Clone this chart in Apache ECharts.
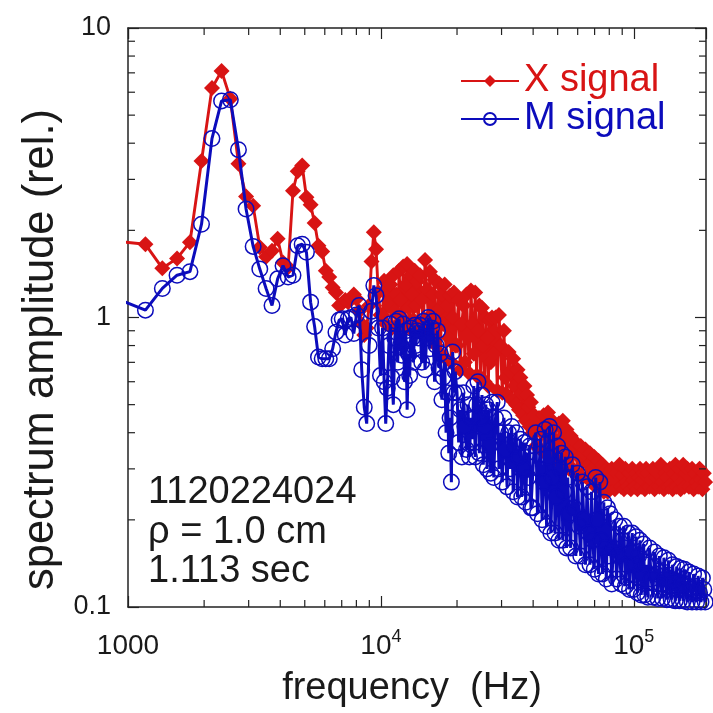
<!DOCTYPE html>
<html>
<head>
<meta charset="utf-8">
<script src="https://cdn.jsdelivr.net/npm/echarts@6/dist/echarts.min.js"></script>
<style>html,body{margin:0;padding:0;background:#fff;}#c{width:713px;height:713px;}</style>
</head>
<body>
<div id="c"></div>
<script>
// ---- data ----
const freq = [
  977, 1172, 1367, 1563, 1758, 1953, 2148, 2344, 2539, 2734, 2930, 3125, 3320, 3516, 3711, 3906,
  4102, 4297, 4492, 4688, 4883, 5078, 5273, 5469, 5664, 5859, 6055, 6250, 6445, 6641, 6836, 7031,
  7227, 7422, 7617, 7813, 8008, 8203, 8398, 8594, 8789, 8984, 9180, 9375, 9570, 9766, 9961,
  10150, 10300, 10450, 10600, 10750, 10900, 11050, 11200, 11350, 11500, 11650, 11800, 11950,
  12100, 12250, 12400, 12550, 12700, 12850, 13000, 13150, 13300, 13450, 13600, 13750, 13900,
  14050, 14275, 14500, 14725, 14950, 15175, 15400, 15625, 15850, 16075, 16300, 16525, 16750,
  16975, 17200, 17425, 17650, 17875, 18100, 18325, 18550, 18775, 19000, 19225, 19450, 19675,
  20000, 20300, 20600, 20900, 21200, 21500, 21800, 22100, 22400, 22700, 23000, 23300, 23600,
  23900, 24200, 24500, 24800, 25100, 25400, 25700, 26000, 26300, 26600, 26900, 27200, 27500,
  27950, 28400, 28850, 29300, 29750, 30200, 30650, 31100, 31550, 32000, 32450, 32900, 33350,
  33800, 34250, 34700, 35150, 35600, 36050, 36500, 36950, 37400, 37850, 38300, 38750, 39200,
  39800, 40400, 41000, 41600, 42200, 42800, 43400, 44000, 44600, 45200, 45800, 46400, 47000, 47600,
  48200, 48800, 49400, 50000, 50600, 51200, 51800, 52400, 53000, 53600, 54200, 54800, 55400,
  56300, 57200, 58100, 59000, 59900, 60800, 61700, 62600, 63500, 64400, 65300, 66200, 67100, 68000,
  68900, 69800, 70700, 71600, 72500, 73400, 74300, 75200, 76100, 77000, 77900, 78800, 79700,
  80600, 81800, 83000, 84200, 85400, 86600, 87800, 89000, 90200, 91400, 92600, 93800, 95000, 96200,
  97400, 98600, 99800, 101000, 102200, 103400, 104600, 105800, 107000, 108200, 109400, 110600, 111800,
  113600, 115400, 117200, 119000, 120800, 122600, 124400, 126200, 128000, 129800, 131600, 133400, 135200, 137000,
  138800, 140600, 142400, 144200, 146000, 147800, 149600, 151400, 153200, 155000, 156800, 158600, 160400,
  162800, 165200, 167600, 170000, 172400, 174800, 177200, 179600, 182000, 184400, 186800, 189200, 191600
];
const xSignal = [
  1.82, 1.79, 1.48, 1.60, 1.82, 3.47, 6.2, 7.1, 5.7, 3.4, 2.62, 2.43, 1.75, 1.62, 1.70, 1.87,
  1.55, 1.49, 2.74, 3.20, 3.35, 2.60, 2.45, 2.12, 1.77, 1.69, 1.45, 1.38, 1.27, 1.22, 1.10, 1.12,
  1.15, 1.13, 1.16, 1.20, 1.16, 1.05, 0.95, 0.87, 0.92, 1.10, 1.56, 1.97, 1.72, 1.22, 1.02,
  1.02, 1.34, 0.95, 1.25, 1.10, 1.30, 0.92, 1.40, 1.05, 1.20, 0.95, 1.45, 1.15,
  1.00, 1.50, 0.93, 1.30, 1.53, 1.08, 0.92, 1.40, 1.20, 0.98, 1.45, 1.10, 1.33,
  0.95, 1.40, 1.15, 0.90, 1.58, 1.25, 1.00, 1.44, 0.85, 1.20, 1.35, 0.80, 1.05,
  1.31, 0.75, 1.20, 0.95, 1.30, 0.72, 1.10, 0.85, 1.19, 0.70, 1.00, 1.22, 0.80,
  0.80, 1.15, 0.66, 0.95, 1.10, 0.70, 1.20, 0.85, 0.64, 1.24, 0.95, 0.75, 1.22,
  0.63, 0.90, 1.10, 0.62, 1.08, 0.80, 0.60, 1.00, 0.85, 0.58, 0.98, 0.70, 1.00,
  0.75, 1.00, 0.56, 1.02, 0.80, 0.55, 0.90, 0.62, 0.54, 0.76, 0.65, 0.52, 0.72,
  0.58, 0.50, 0.66, 0.48, 0.62, 0.55, 0.46, 0.58, 0.44, 0.54, 0.49, 0.42, 0.51,
  0.40, 0.46, 0.36, 0.43, 0.45, 0.35, 0.40, 0.46, 0.34, 0.42, 0.47, 0.33, 0.38, 0.44,
  0.33, 0.42, 0.36, 0.32, 0.43, 0.38, 0.31, 0.44, 0.35, 0.31, 0.41, 0.36, 0.30,
  0.39, 0.30, 0.35, 0.37, 0.29, 0.33, 0.36, 0.28, 0.34, 0.35, 0.28, 0.31, 0.34, 0.27,
  0.30, 0.33, 0.26, 0.29, 0.32, 0.26, 0.30, 0.31, 0.25, 0.28, 0.30, 0.25, 0.29,
  0.26, 0.30, 0.275, 0.255, 0.29, 0.27, 0.31, 0.26, 0.285, 0.255, 0.30, 0.27, 0.26, 0.29,
  0.255, 0.30, 0.275, 0.26, 0.29, 0.255, 0.28, 0.30, 0.26, 0.275, 0.29, 0.255, 0.30,
  0.29, 0.26, 0.275, 0.30, 0.255, 0.28, 0.29, 0.26, 0.31, 0.27, 0.255, 0.29, 0.28, 0.26,
  0.30, 0.265, 0.255, 0.29, 0.31, 0.26, 0.28, 0.30, 0.255, 0.27, 0.31, 0.26, 0.29,
  0.30, 0.26, 0.28, 0.30, 0.255, 0.29, 0.27, 0.26, 0.30, 0.275, 0.255, 0.29, 0.27
];
const mSignal = [
  1.13, 1.06, 1.26, 1.40, 1.44, 2.10, 4.15, 5.6, 5.65, 3.8, 2.37, 1.76, 1.47, 1.26, 1.10, 1.36,
  1.51, 1.38, 1.40, 1.77, 1.79, 1.68, 1.13, 0.93, 0.73, 0.72, 0.72, 0.72, 0.78, 0.89, 0.98, 0.99,
  0.87, 0.99, 1.00, 0.88, 1.02, 1.10, 0.66, 0.49, 0.43, 0.80, 1.05, 1.29, 1.19, 0.92, 0.63,
  0.92, 0.60, 0.43, 0.57, 0.80, 0.95, 0.62, 0.50, 0.85, 0.97, 0.70, 0.99, 0.80,
  0.74, 0.95, 0.60, 0.90, 0.48, 0.75, 0.63, 0.92, 0.85, 0.70, 0.94, 0.80, 0.90,
  0.85, 0.94, 0.70, 0.97, 0.66, 0.85, 1.00, 0.78, 0.92, 0.97, 0.60, 0.80, 0.90,
  0.67, 0.75, 0.52, 0.62, 0.70, 0.40, 0.55, 0.34, 0.45, 0.27, 0.76, 0.55, 0.65,
  0.55, 0.37, 0.48, 0.33, 0.55, 0.42, 0.35, 0.50, 0.33, 0.45, 0.38, 0.58, 0.33,
  0.50, 0.60, 0.34, 0.45, 0.54, 0.31, 0.42, 0.50, 0.30, 0.48, 0.36, 0.29, 0.51,
  0.28, 0.45, 0.51, 0.30, 0.40, 0.27, 0.45, 0.35, 0.26, 0.40, 0.30, 0.42, 0.25,
  0.36, 0.40, 0.24, 0.33, 0.38, 0.24, 0.30, 0.37, 0.23, 0.34, 0.28, 0.36, 0.22,
  0.22, 0.36, 0.40, 0.21, 0.30, 0.38, 0.20, 0.27, 0.41, 0.19, 0.33, 0.42, 0.18, 0.28,
  0.40, 0.18, 0.24, 0.36, 0.17, 0.30, 0.34, 0.17, 0.25, 0.33, 0.16, 0.28, 0.21,
  0.16, 0.31, 0.22, 0.15, 0.29, 0.19, 0.15, 0.27, 0.20, 0.14, 0.26, 0.18, 0.14, 0.25,
  0.17, 0.135, 0.28, 0.20, 0.13, 0.27, 0.17, 0.13, 0.23, 0.16, 0.125, 0.22, 0.15,
  0.21, 0.12, 0.16, 0.20, 0.125, 0.15, 0.19, 0.12, 0.17, 0.19, 0.118, 0.14, 0.18, 0.115,
  0.155, 0.18, 0.115, 0.14, 0.175, 0.112, 0.15, 0.17, 0.11, 0.13, 0.165, 0.11, 0.14,
  0.108, 0.16, 0.125, 0.108, 0.155, 0.13, 0.107, 0.15, 0.12, 0.107, 0.148, 0.125, 0.106, 0.145,
  0.118, 0.106, 0.14, 0.122, 0.105, 0.138, 0.115, 0.105, 0.136, 0.12, 0.105, 0.135, 0.115,
  0.104, 0.132, 0.115, 0.104, 0.13, 0.118, 0.104, 0.128, 0.112, 0.104, 0.126, 0.115, 0.104
];
const seriesNames = ['X signal', 'M signal'];
const xMinorTicks = [2000, 3000, 4000, 5000, 6000, 7000, 8000, 9000,
  20000, 30000, 40000, 50000, 60000, 70000, 80000, 90000];
const yMinorTicks = [0.2, 0.3, 0.4, 0.5, 0.6, 0.7, 0.8, 0.9, 2, 3, 4, 5, 6, 7, 8, 9];
const X_MIN = 1000, X_MAX = 193000, Y_MIN = 0.1, Y_MAX = 10;
const annotation = ['1120224024', 'ρ = 1.0 cm', '1.113 sec'];
const xName = 'frequency  (Hz)';
const yName = 'spectrum amplitude (rel.)';

// ---- styles ----
const RED = '#d81414';
const BLUE = '#0c0cbc';
const INK = '#1a1a1a';
const FONT = 'Liberation Sans, Arial, Helvetica, sans-serif';

const chart = echarts.init(document.getElementById('c'), null, {renderer: 'canvas'});

function xLabel(v) {
  const e = Math.round(Math.log10(v));
  if (Math.abs(v - Math.pow(10, e)) > 1e-6 * v) return '';
  if (e === 3) return '{b|1000}';
  return '{b|10}{s|' + e + '}';
}
function yLabel(v) {
  const e = Math.round(Math.log10(v));
  if (Math.abs(v - Math.pow(10, e)) > 1e-6 * v) return '';
  return e === -1 ? '0.1' : (e === 0 ? '1' : '10');
}
const axisLineStyle = {show: true, onZero: false, lineStyle: {color: '#222', width: 1.5}};
const axisTickStyle = {show: true, inside: true, length: 11, lineStyle: {color: '#222', width: 1.2}};

function tickItem(p, q) {
  return {type: 'line', shape: {x1: p[0], y1: p[1], x2: q[0], y2: q[1]},
          style: {stroke: '#222', lineWidth: 1.2}};
}

const option = {
  animation: false,
  backgroundColor: '#ffffff',
  grid: {left: 128, right: 7, top: 28, bottom: 103, containLabel: false},
  title: {
    text: annotation.join('\n'),
    left: 148, top: 473, padding: 0,
    textStyle: {fontSize: 38, fontWeight: 'normal', lineHeight: 39.5, color: INK, fontFamily: FONT}
  },
  legend: {
    left: 455, top: 57, orient: 'vertical',
    itemWidth: 58, itemHeight: 15, itemGap: 0,
    data: [
      {name: seriesNames[0], textStyle: {color: RED}},
      {name: seriesNames[1], textStyle: {color: BLUE}}
    ],
    textStyle: {fontSize: 38, lineHeight: 37, fontFamily: FONT},
    selectedMode: false
  },
  xAxis: [
    {
      type: 'log', logBase: 10, min: X_MIN, max: X_MAX, position: 'bottom',
      axisLine: axisLineStyle, axisTick: axisTickStyle, splitLine: {show: false},
      axisLabel: {
        formatter: xLabel, margin: 21, color: INK, fontFamily: FONT,
        rich: {
          b: {fontSize: 28, lineHeight: 36, color: INK, fontFamily: FONT},
          s: {fontSize: 18, lineHeight: 18, verticalAlign: 'top', color: INK, fontFamily: FONT}
        }
      },
      name: xName, nameLocation: 'middle', nameGap: 63,
      nameTextStyle: {fontSize: 38, color: INK, fontFamily: FONT, padding: [0, 10, 0, 0]}
    },
    {
      type: 'log', logBase: 10, min: X_MIN, max: X_MAX, position: 'top',
      axisLine: axisLineStyle, axisTick: axisTickStyle, splitLine: {show: false},
      axisLabel: {show: false}
    }
  ],
  yAxis: [
    {
      type: 'log', logBase: 10, min: Y_MIN, max: Y_MAX, position: 'left',
      axisLine: axisLineStyle, axisTick: axisTickStyle, splitLine: {show: false},
      axisLabel: {formatter: yLabel, margin: 17, fontSize: 27, color: INK, fontFamily: FONT},
      name: yName, nameLocation: 'middle', nameGap: 64,
      nameTextStyle: {fontSize: 43.5, color: INK, fontFamily: FONT, padding: [0, 64, 0, 0]}
    },
    {
      type: 'log', logBase: 10, min: Y_MIN, max: Y_MAX, position: 'right',
      axisLine: axisLineStyle, axisTick: axisTickStyle, splitLine: {show: false},
      axisLabel: {show: false}
    }
  ],
  series: [
    {
      name: seriesNames[0], type: 'line', xAxisIndex: 0, yAxisIndex: 0,
      data: freq.map((f, i) => [f, xSignal[i]]),
      symbol: 'diamond', symbolSize: 16, showAllSymbol: true,
      lineStyle: {color: RED, width: 2.9},
      itemStyle: {color: RED},
      emphasis: {disabled: true}, z: 2
    },
    {
      name: seriesNames[1], type: 'line', xAxisIndex: 0, yAxisIndex: 0,
      data: freq.map((f, i) => [f, mSignal[i]]),
      symbol: 'circle', symbolSize: 15.5, showAllSymbol: true,
      lineStyle: {color: BLUE, width: 3},
      itemStyle: {color: 'rgba(0,0,0,0)', borderColor: BLUE, borderWidth: 1.5},
      emphasis: {disabled: true}, z: 3
    },
    {
      type: 'custom', xAxisIndex: 0, yAxisIndex: 0, silent: true, z: 5, clip: false,
      data: xMinorTicks.map(v => [v, Y_MIN]),
      renderItem: function (params, api) {
        const x = api.value(0);
        const b = api.coord([x, Y_MIN]);
        const t = api.coord([x, Y_MAX]);
        return {type: 'group', children: [
          tickItem(b, [b[0], b[1] - 7]),
          tickItem(t, [t[0], t[1] + 7])
        ]};
      }
    },
    {
      type: 'custom', xAxisIndex: 0, yAxisIndex: 0, silent: true, z: 5, clip: false,
      data: yMinorTicks.map(v => [X_MIN, v]),
      renderItem: function (params, api) {
        const y = api.value(1);
        const l = api.coord([X_MIN, y]);
        const r = api.coord([X_MAX, y]);
        return {type: 'group', children: [
          tickItem(l, [l[0] + 7, l[1]]),
          tickItem(r, [r[0] - 7, r[1]])
        ]};
      }
    }
  ]
};
chart.setOption(option);
</script>
</body>
</html>
